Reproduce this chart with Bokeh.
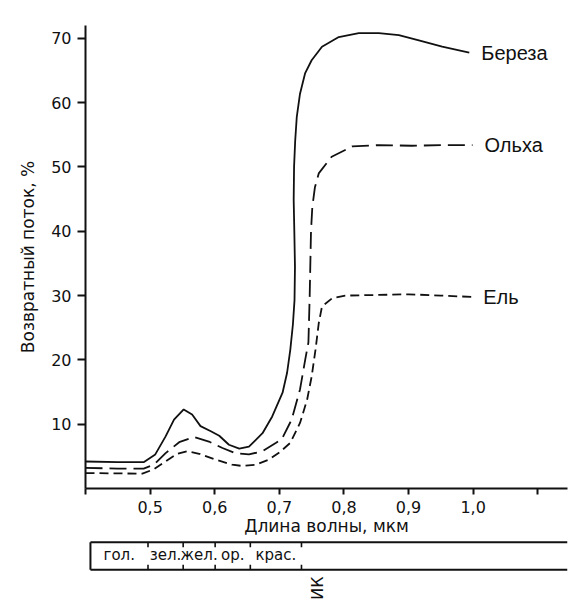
import numpy as np
from bokeh.plotting import figure
from bokeh.models import Range1d, FixedTicker, ColumnDataSource
from bokeh.layouts import column
from bokeh.embed import file_html
from bokeh.resources import INLINE
from bokeh.core.properties import value

# ---------------- data ----------------
birch_x = [0.40, 0.45, 0.49, 0.508, 0.524, 0.537, 0.552, 0.565, 0.578, 0.594, 0.607,
           0.622, 0.638, 0.653, 0.674, 0.689, 0.705, 0.712, 0.717, 0.721, 0.7235,
           0.7242, 0.7232, 0.7222, 0.7228, 0.7245, 0.727, 0.732, 0.740, 0.750, 0.766,
           0.792, 0.823, 0.854, 0.885, 0.916, 0.952, 0.994]
birch_y = [4.2, 4.1, 4.1, 5.3, 8.1, 10.7, 12.3, 11.5, 9.7, 8.9, 8.2,
           6.8, 6.2, 6.5, 8.6, 11.2, 14.9, 18.0, 21.6, 25.5, 29.3,
           34.5, 40.0, 44.9, 50.0, 54.0, 57.8, 61.4, 64.6, 66.6, 68.7,
           70.2, 70.8, 70.8, 70.5, 69.7, 68.7, 67.8]

alder_x = [0.40, 0.45, 0.49, 0.506, 0.524, 0.545, 0.568, 0.591, 0.612, 0.632, 0.653,
           0.674, 0.695, 0.704, 0.719, 0.732, 0.740, 0.745, 0.747, 0.749, 0.751,
           0.755, 0.761, 0.781, 0.813, 0.854, 0.905, 0.950, 0.999]
alder_y = [3.2, 3.1, 3.1, 3.7, 5.5, 7.2, 8.0, 7.3, 6.3, 5.5, 5.3,
           5.8, 7.1, 7.7, 10.7, 15.4, 20.0, 22.7, 30.0, 40.0, 43.7,
           46.8, 49.0, 51.6, 53.2, 53.4, 53.3, 53.4, 53.4]

spruce_x = [0.40, 0.45, 0.488, 0.506, 0.524, 0.542, 0.557, 0.576, 0.601, 0.627, 0.643,
            0.664, 0.684, 0.700, 0.717, 0.732, 0.743, 0.750, 0.756, 0.761, 0.766,
            0.782, 0.802, 0.854, 0.900, 0.950, 0.997]
spruce_y = [2.4, 2.35, 2.3, 3.0, 4.2, 5.4, 5.8, 5.4, 4.5, 3.7, 3.5,
            3.7, 4.5, 5.6, 7.1, 10.2, 13.8, 17.4, 21.6, 25.7, 28.3,
            29.6, 30.0, 30.1, 30.2, 30.0, 29.8]

series_names = ["Береза", "Ольха", "Ель"]

x_ticks = [0.4, 0.5, 0.6, 0.7, 0.8, 0.9, 1.0, 1.1]
x_tick_labels = ["", "0,5", "0,6", "0,7", "0,8", "0,9", "1,0", ""]
y_ticks = [10, 20, 30, 40, 50, 60, 70]
y_tick_labels = ["10", "20", "30", "40", "50", "60", "70"]

band_edges = [0.4, 0.49, 0.545, 0.595, 0.65, 0.73]
band_labels = ["гол.", "зел.", "жел.", "ор.", "крас."]
ir_label = "ИК"
ir_x = 0.755

x_label = "Длина волны, мкм"
y_label = "Возвратный поток, %"

# ---------------- layout constants ----------------
X0, X1 = 0.4, 1.146
Y0, Y1 = 0, 72
W = 570
LEFT = 85
RIGHT = 3
FONT = "DejaVu Sans"
INK = "#111111"

p = figure(width=W, height=538, x_range=Range1d(X0, X1), y_range=Range1d(Y0, Y1),
           output_backend="svg", toolbar_location=None,
           min_border_left=LEFT, min_border_right=RIGHT, min_border_top=25, min_border_bottom=50)
p.outline_line_color = None
p.grid.visible = False
p.background_fill_color = "white"
p.border_fill_color = "white"

for ax in (p.xaxis[0], p.yaxis[0]):
    ax.axis_line_width = 2
    ax.axis_line_color = INK
    ax.major_tick_line_width = 2
    ax.major_tick_line_color = INK
    ax.major_tick_in = 0
    ax.minor_tick_out = 0
    ax.minor_tick_in = 0
    ax.major_label_text_font = FONT
    ax.major_label_text_font_size = "16px"
    ax.major_label_text_color = INK
    ax.axis_label_text_font = FONT
    ax.axis_label_text_font_size = "17px"
    ax.axis_label_text_font_style = "normal"
    ax.axis_label_text_color = INK

p.xaxis.ticker = FixedTicker(ticks=x_ticks, minor_ticks=[])
p.xaxis.major_label_overrides = dict(zip(x_ticks, x_tick_labels))
p.xaxis.major_tick_out = 6
p.xaxis.major_label_standoff = 6
p.xaxis.axis_label = x_label
p.xaxis.axis_label_standoff = 0

p.yaxis.ticker = FixedTicker(ticks=y_ticks, minor_ticks=[])
p.yaxis.major_label_overrides = dict(zip(y_ticks, y_tick_labels))
p.yaxis.major_tick_out = 8
p.yaxis.major_label_standoff = 6
p.yaxis.axis_label = y_label
p.yaxis.axis_label_standoff = 10

p.line(birch_x, birch_y, line_color=INK, line_width=1.8)
p.line(alder_x, alder_y, line_color=INK, line_width=1.8, line_dash="17 7")
p.line(spruce_x, spruce_y, line_color=INK, line_width=1.8, line_dash="9 5")

lab_src = ColumnDataSource(dict(
    x=[birch_x[-1], alder_x[-1], spruce_x[-1]],
    y=[birch_y[-1], alder_y[-1], spruce_y[-1]],
    t=series_names))
p.text(x="x", y="y", text="t", source=lab_src, x_offset=12,
       text_font=value("Liberation Sans"), text_font_size="20px",
       text_color=INK, text_align="left", text_baseline="middle")

# ---------------- colour band strip below ----------------
BH = 63
scale = (W - LEFT - RIGHT) / (X1 - X0)
pad = 5
b = figure(width=W, height=BH, x_range=Range1d(X0 - pad / scale, X1), y_range=Range1d(-BH, 0),
           output_backend="svg", toolbar_location=None, x_axis_type=None, y_axis_type=None,
           min_border_left=LEFT - pad, min_border_right=RIGHT, min_border_top=0, min_border_bottom=0)
b.outline_line_color = None
b.grid.visible = False
b.background_fill_color = "white"
b.border_fill_color = "white"

top, bot = -3.7, -31.3
b.segment(x0=[band_edges[0], band_edges[0], band_edges[0]], y0=[top, bot, top],
          x1=[X1, X1, band_edges[0]], y1=[top, bot, bot],
          line_color=INK, line_width=2)
edges = band_edges[1:]
b.segment(x0=edges, y0=[top] * len(edges), x1=edges, y1=[top - 5] * len(edges),
          line_color=INK, line_width=1.6)
b.segment(x0=edges, y0=[bot] * len(edges), x1=edges, y1=[bot + 5] * len(edges),
          line_color=INK, line_width=1.6)
centers = [(a + c) / 2 for a, c in zip(band_edges[:-1], band_edges[1:])]
b.text(x=centers, y=[-16.5] * len(centers), text=band_labels,
       text_font=value(FONT), text_font_size="15px", text_color=INK,
       text_align="center", text_baseline="middle")
b.text(x=[ir_x], y=[-38], text=[ir_label], angle=np.pi / 2,
       text_font=value(FONT), text_font_size="16px", text_color=INK,
       text_align="right", text_baseline="middle")

layout = column(p, b, spacing=0)
open("out.html", "w").write(file_html(layout, INLINE))
